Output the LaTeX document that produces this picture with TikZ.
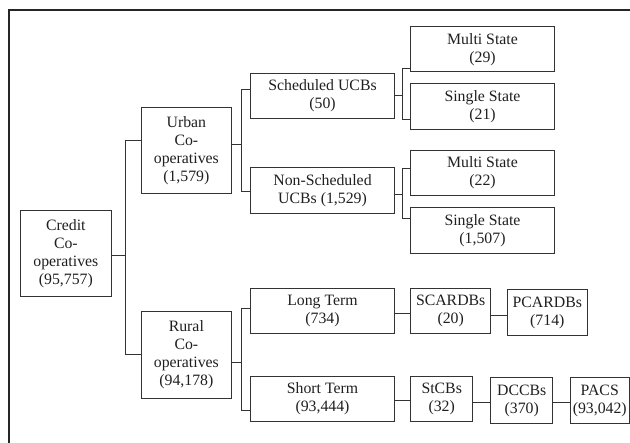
\documentclass[tikz,border=0pt]{standalone}
\usepackage{fontspec}
\setmainfont{Liberation Serif}
\begin{document}
\begin{tikzpicture}[x=1pt,y=-1pt,
  ln/.style={draw=black!80,line width=1pt},
  bx/.style={ln,rectangle,inner sep=0pt,align=center,text=black!88,
    font=\fontsize{15.8}{18}\selectfont},
  wA/.style={minimum width=90.5pt},
  wB/.style={minimum width=143.6pt},
  wC/.style={minimum width=80pt},
  wD/.style={minimum width=62pt},
  hA/.style={minimum height=86.5pt},
  hB/.style={minimum height=45.3pt}]
\useasboundingbox (0,0) rectangle (630,443);
\draw[line width=1.3pt,black!85] (9,443) -- (9,10) -- (630,10);
% nodes
\node[bx,wA,hA] (credit) at (65.85,253.35) {Credit\\Co-\\operatives\\(95,757)};
\node[bx,wA,hA] (urban) at (186.35,150.3) {Urban\\Co-\\operatives\\(1,579)};
\node[bx,wA,hA] (rural) at (186.35,355) {Rural\\Co-\\operatives\\(94,178)};
\node[bx,wB,hB] (sched) at (322.5,95.8) {Scheduled UCBs\\(50)};
\node[bx,wB,hB] (nonsched) at (322.5,190.65) {Non-Scheduled\\UCBs (1,529)};
\node[bx,wB,hB] (ms1) at (482.5,49.35) {Multi State\\(29)};
\node[bx,wB,hB] (ss1) at (482.5,106.5) {Single State\\(21)};
\node[bx,wB,hB] (ms2) at (482.5,173) {Multi State\\(22)};
\node[bx,wB,hB] (ss2) at (482.5,230.5) {Single State\\(1,507)};
\node[bx,wB,hB] (long) at (322.5,310.8) {Long Term\\(734)};
\node[bx,wB,hB] (short) at (322.5,398.85) {Short Term\\(93,444)};
\node[bx,wC,hB] (scard) at (450.7,310.8) {SCARDBs\\(20)};
\node[bx,wC,hB] (pcard) at (547.3,312.5) {PCARDBs\\(714)};
\node[bx,wD,hB] (stcb) at (441.7,398.85) {StCBs\\(32)};
\node[bx,wD,hB] (dccb) at (521.7,400.5) {DCCBs\\(370)};
\node[bx,minimum width=59.5pt,hB] (pacs) at (599.75,400.5) {PACS\\(93,042)};
% spine x positions
\coordinate (s1) at (125.5,0);
\coordinate (s2) at (241.5,0);
\coordinate (s3) at (402.3,0);
% attachment points
\coordinate (credit-o) at ([yshift=-2.65pt]credit.east);
\coordinate (urban-i) at ([yshift=9.3pt]urban.west);
\coordinate (urban-o) at ([yshift=6pt]urban.east);
\coordinate (rural-o) at ([yshift=-7.7pt]rural.east);
\coordinate (sched-i) at ([yshift=6.5pt]sched.west);
\coordinate (nonsched-i) at ([yshift=-1pt]nonsched.west);
\coordinate (nonsched-o) at ([yshift=-4.35pt]nonsched.east);
\coordinate (long-i) at ([yshift=2.5pt]long.west);
\coordinate (short-i) at ([yshift=-12.15pt]short.west);
\coordinate (ms1-i) at ([yshift=-19pt]ms1.west);
\coordinate (ss1-i) at ([yshift=-12.8pt]ss1.west);
\coordinate (ms2-i) at ([yshift=4.7pt]ms2.west);
\coordinate (ss2-i) at ([yshift=12.2pt]ss2.west);
\coordinate (long-o) at ([yshift=-2.5pt]long.east);
\coordinate (scard-o) at ([yshift=-4.9pt]scard.east);
\coordinate (short-o) at ([yshift=-2.15pt]short.east);
\coordinate (stcb-o) at ([yshift=-3.85pt]stcb.east);
\coordinate (dccb-o) at ([yshift=-2.2pt]dccb.east);
% connectors
\draw[ln] (credit-o) -- (credit-o -| s1);
\draw[ln] (urban-i) -| (s1 |- rural.west) -- (rural.west);
\draw[ln] (urban-o) -- (urban-o -| s2);
\draw[ln] (sched-i) -| (s2 |- nonsched-i) -- (nonsched-i);
\draw[ln] (rural-o) -- (rural-o -| s2);
\draw[ln] (long-i) -| (s2 |- short-i) -- (short-i);
\draw[ln] (sched.east) -- (sched.east -| s3);
\draw[ln] (ms1-i) -| (s3 |- ss1-i) -- (ss1-i);
\draw[ln] (nonsched-o) -- (nonsched-o -| s3);
\draw[ln] (ms2-i) -| (s3 |- ss2-i) -- (ss2-i);
\draw[ln] (long-o) -- (long-o -| scard.west);
\draw[ln] (scard-o) -- (scard-o -| pcard.west);
\draw[ln] (short-o) -- (short-o -| stcb.west);
\draw[ln] (stcb-o) -- (stcb-o -| dccb.west);
\draw[ln] (dccb-o) -- (dccb-o -| pacs.west);
\end{tikzpicture}
\end{document}
